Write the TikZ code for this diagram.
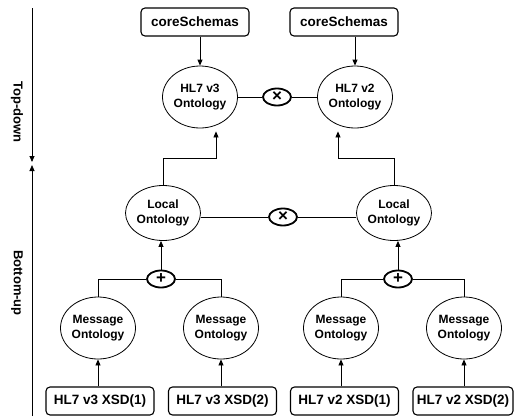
\documentclass[tikz,border=0pt]{standalone}
\usepackage{fontspec}
\setmainfont{Liberation Sans}
\usetikzlibrary{arrows.meta,shapes.geometric,calc}
\begin{document}
\begin{tikzpicture}[x=1pt,y=-1pt,
  src/.style={draw,rounded corners=4pt,line width=1.1pt,minimum width=108pt,
    minimum height=28pt,inner sep=0pt,font=\fontsize{13.5}{15}\selectfont\bfseries},
  onto/.style={draw,ellipse,line width=0.8pt,minimum width=75pt,minimum height=62pt,
    inner sep=0pt,align=center,font=\fontsize{12}{15}\selectfont\bfseries},
  op/.style={draw,ellipse,line width=1.8pt,minimum width=28pt,minimum height=17pt,
    inner sep=0pt,font=\fontsize{17}{17}\selectfont\bfseries},
  link/.style={line width=0.8pt},
  flow/.style={link,-{Triangle[length=6pt,width=5pt]}},
  side/.style={rotate=-90,font=\fontsize{13}{15}\selectfont\bfseries},
]
\useasboundingbox (0,0) rectangle (515,416);

% phase axis
\coordinate (tdTop) at (32,8);
\coordinate (tdEnd) at (32,162);
\coordinate (buBot) at (32,416);
\coordinate (buEnd) at (32,165);
\draw[flow] (tdTop) -- (tdEnd);
\draw[flow] (buBot) -- (buEnd);
\node[side] (tdLabel) at (17,112) {Top-down};
\node[side] (buLabel) at (17,283) {Bottom-up};

% top layer
\node[src] (csL) at (195,22) {coreSchemas};
\node[src] (csR) at (344,22) {coreSchemas};
\node[onto] (hl3) at (200,97) {HL7 v3\\Ontology};
\node[onto] (hl2) at (355,97) {HL7 v2\\Ontology};
\node[op] (xTop) at (277,97) {×};

% local layer
\node[onto,minimum height=55pt] (locL) at (163,213) {Local\\Ontology};
\node[onto,minimum height=55pt] (locR) at (394,213) {Local\\Ontology};
\node[op] (xMid) at (283,217) {×};

% merge operators
\node[op] (plusL) at (161,279) {+};
\node[op] (plusR) at (398,279) {+};

% message ontologies
\node[onto] (msgL1) at (98,328) {Message\\Ontology};
\node[onto] (msgL2) at (221,328) {Message\\Ontology};
\node[onto] (msgR1) at (341,328) {Message\\Ontology};
\node[onto] (msgR2) at (464,328) {Message\\Ontology};

% schema sources
\node[src] (srcL1) at (100,401) {HL7 v3 XSD(1)};
\node[src] (srcL2) at (222.5,401) {HL7 v3 XSD(2)};
\node[src] (srcR1) at (344.5,401) {HL7 v2 XSD(1)};
\node[src,minimum width=100pt] (srcR2) at (463,401) {HL7 v2 XSD(2)};

% connectors
\draw[flow] (csL.south -| hl3) -- (hl3);
\draw[flow] (csR.south -| hl2) -- (hl2);
\draw[link] (hl3) -- (xTop) -- (hl2);

\coordinate (jL) at (216,158);
\coordinate (jR) at (338,158);
\coordinate (tipL) at ($(jL |- hl3.south)+(0,3)$);
\coordinate (tipR) at ($(jR |- hl2.south)+(0,3)$);
\draw[flow] (locL.north) |- (jL) -- (tipL);
\draw[flow] (locR.north) |- (jR) -- (tipR);

\draw[link] (xMid.west) -- (xMid.west -| locL.east);
\draw[link] (xMid.east) -- (xMid.east -| locR.west);

\draw[flow] (plusL.north) -- (plusL.north |- locL.south);
\draw[flow] (plusR.north) -- (plusR.north |- locR.south);

\draw[link] (plusL) -| (msgL1);
\draw[link] (plusL) -| (msgL2);
\draw[link] (plusR) -| (msgR1);
\draw[link] (plusR) -| (msgR2);

\draw[flow] (srcL1.north -| msgL1) -- (msgL1);
\draw[flow] (srcL2.north -| msgL2) -- (msgL2);
\draw[flow] (srcR1.north -| msgR1) -- (msgR1);
\draw[flow] (srcR2.north -| msgR2) -- (msgR2);
\end{tikzpicture}
\end{document}
